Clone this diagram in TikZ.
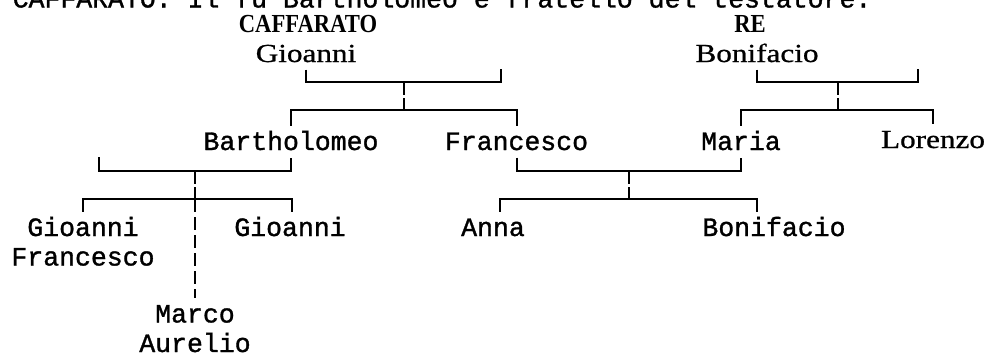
\documentclass[tikz,border=0pt]{standalone}
\usepackage{fontspec}
\setmainfont{Liberation Serif}
\newfontfamily\mononame[FakeBold=1.2]{Liberation Mono}
\newfontfamily\namefont[FakeStretch=1.2,FakeBold=0.8]{Liberation Serif}
\newfontfamily\famfont[FakeStretch=0.87]{Liberation Serif}
\usetikzlibrary{positioning}
\tikzset{
  nm/.style={font=\mononame\fontsize{26.5}{29.5}\selectfont, inner sep=0pt,
             text height=24pt, text depth=7.5pt, anchor=base},
  nm2/.style={nm, align=center, text height=53.5pt, text depth=1pt},
  sn/.style={nm, font=\namefont\fontsize{26}{28}\selectfont},
  fam/.style={inner sep=0pt, anchor=base, font=\famfont\bfseries\fontsize{26}{28}\selectfont},
  bar/.style={line width=2pt},
  stem/.style={bar, dash pattern=on 13pt off 3pt on 20pt},
  dline/.style={bar, dash pattern=on 13pt off 5pt},
}

\begin{document}
\begin{tikzpicture}[x=1pt,y=-1pt]
  \path[use as bounding box] (0,0) rectangle (992,356);
  \clip (0,0) rectangle (992,356);
  % heading, cut off at the top
  \node[nm, anchor=base west] (head) at (12.5,7.5) {CAFFARATO. Il fu Bartholomeo e fratello del testatore.};
  % first generation
  \node[fam] (caf) at (308,32) {CAFFARATO};
  \node[sn] (gioT) at (306,62) {Gioanni};
  \node[fam] (re) at (750,32) {RE};
  \node[sn] (bonT) at (757,62) {Bonifacio};
  % second generation
  \node[nm] (bart) at (291,150) {Bartholomeo};
  \node[nm] (fran) at (516.5,150) {Francesco};
  \node[nm] (maria) at (741,150) {Maria};
  \node[sn] (lor) at (933,148) {Lorenzo};
  % third generation
  \node[nm2] (gioF) at (83,265.5) {Gioanni\\Francesco};
  \node[nm] (gioB) at (290,236) {Gioanni};
  \node[nm] (anna) at (493,236) {Anna};
  \node[nm] (bonB) at (774,236) {Bonifacio};
  \node[nm2] (marco) at (195,352) {Marco\\Aurelio};
  % Caffarato
  \coordinate (cafW) at (501,69);
  \coordinate (cafM) at (404,82);
  \coordinate (cafK) at (404,110);
  \draw[bar] (gioT.south) |- (cafM) -| (cafW);
  \draw[stem] (cafM) -- (cafK);
  \draw[bar] (bart.north) |- (cafK) -| (fran.north);
  % Re
  \coordinate (reW) at (918,69);
  \coordinate (reM) at (838,82);
  \coordinate (reK) at (838,110);
  \draw[bar] (bonT.south) |- (reM) -| (reW);
  \draw[stem] (reM) -- (reK);
  \draw[bar] (maria.north) |- (reK) -| (lor.north);
  % Bartholomeo
  \coordinate (bartW) at (99,157);
  \coordinate (bartM) at (195,171);
  \coordinate (bartK) at (195,199);
  \draw[bar] (bartW) |- (bartM) -| (bart.south);
  \draw[stem] (bartM) -- (bartK);
  \draw[bar] (gioF.north) |- (bartK) -| ([xshift=2pt]gioB.north);
  \draw[dline] (bartK) -- (marco.north);
  % Francesco and Maria
  \coordinate (fmM) at (629,171);
  \coordinate (fmK) at (629,199);
  \draw[bar] (fran.south) |- (fmM) -| (maria.south);
  \draw[stem] (fmM) -- (fmK);
  \draw[bar] ([xshift=7pt]anna.north) |- (fmK) -| ([xshift=-17pt]bonB.north);
\end{tikzpicture}
\end{document}
